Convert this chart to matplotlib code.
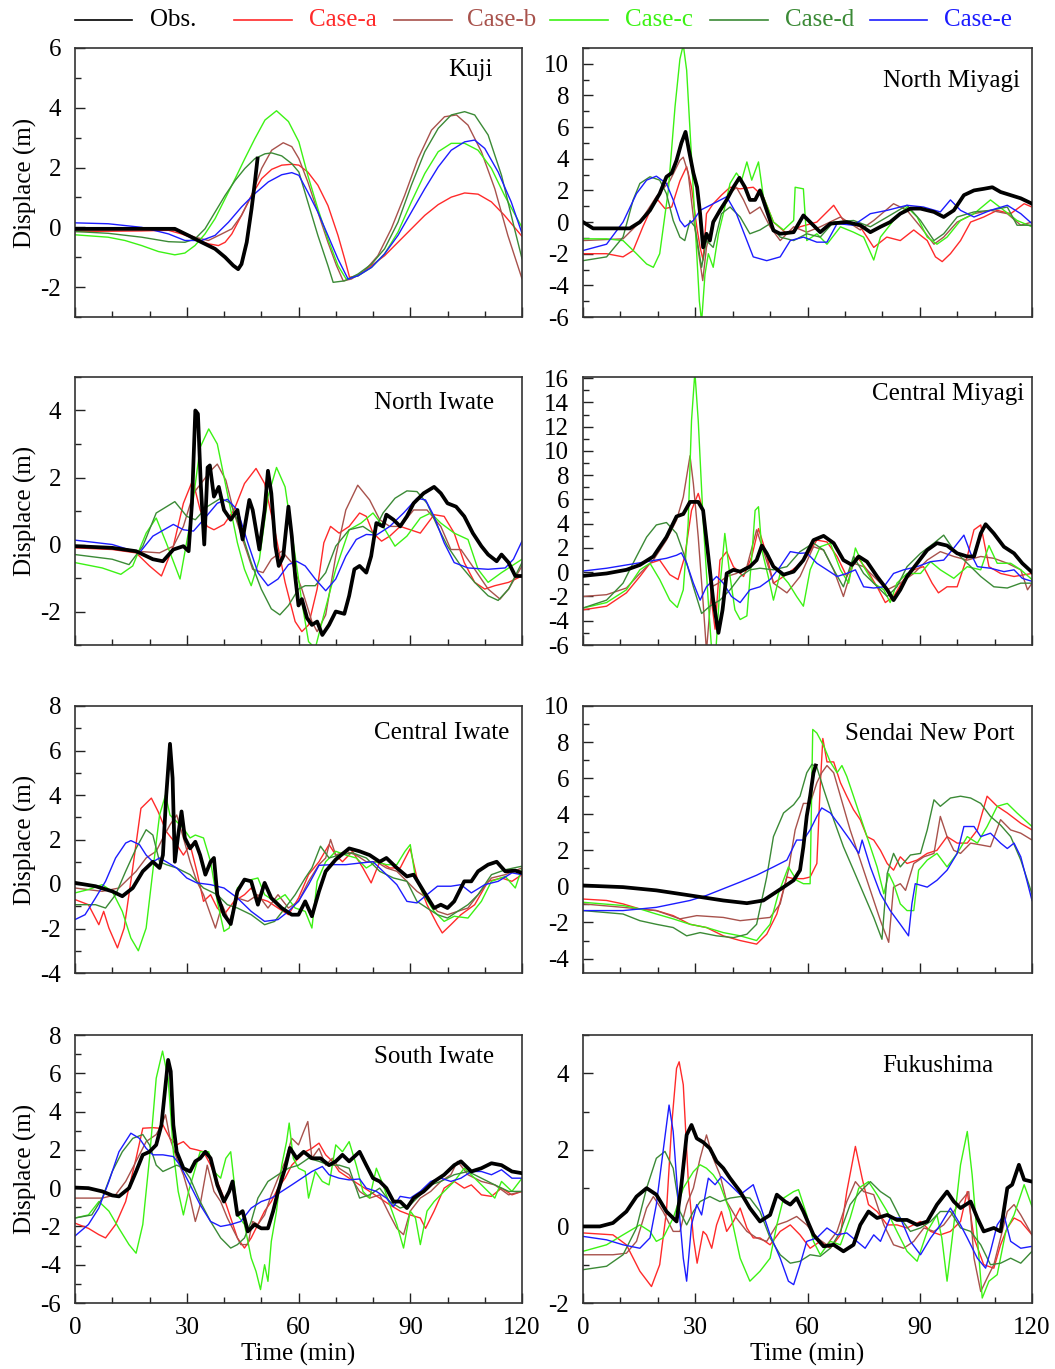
import matplotlib
matplotlib.use("Agg")
import matplotlib.pyplot as plt
from matplotlib.lines import Line2D
from matplotlib.ticker import MultipleLocator

plt.rcParams['font.family'] = ['Liberation Serif', 'DejaVu Serif']
plt.rcParams['axes.unicode_minus'] = False

# ---------------------------------------------------------------- data
# each series: (time [min], displacement [m]) samples
SERIES_NAMES = ["Obs.", "Case-a", "Case-b", "Case-c", "Case-d", "Case-e"]

KUJI_OBS = [(0,-0.05),(8.9,-0.05),(17.9,-0.05),(26.8,-0.05),(30.4,-0.27),(34,-0.5),(37.6,-0.72),(40.3,-1.0),(42.5,-1.28),(43.8,-1.4),(44.7,-1.23),(46.1,-0.5),(47.4,0.62),(48.3,1.52),(49,2.3)]
KUJI_A = [(0,-0.14),(8.9,-0.13),(17.9,-0.12),(25.1,-0.1),(28.6,-0.22),(32.2,-0.39),(35.8,-0.55),(38.5,-0.61),(40.3,-0.5),(42.1,-0.22),(44.7,0.4),(47.4,1.07),(50.1,1.63),(52.8,1.94),(55.5,2.08),(58.2,2.11),(60.1,2.08),(62.5,1.85),(65.2,1.41),(67.9,0.73),(70.6,-0.27),(72.4,-1.06),(73.7,-1.67),(76,-1.62),(79.6,-1.28),(83.1,-0.95),(86.7,-0.5),(90.3,-0.05),(93.9,0.4),(97.5,0.76),(101,1.01),(104.6,1.15),(108.2,1.11),(111.8,0.85),(115.3,0.4),(120,-0.3)]
KUJI_B = [(0,-0.1),(12,-0.08),(25.1,-0.05),(28.6,-0.16),(32.2,-0.33),(35.8,-0.44),(39.4,-0.22),(42.1,-0.05),(44.7,0.4),(47.4,1.07),(50.1,1.97),(52.8,2.58),(55.9,2.83),(58.2,2.7),(60.1,2.3),(62.5,1.52),(65.2,0.51),(67.9,-0.5),(70.2,-1.28),(72,-1.79),(74.2,-1.73),(77.8,-1.45),(81.3,-0.95),(84.9,-0.05),(88.5,1.07),(92.1,2.3),(95.7,3.25),(99.2,3.7),(102.4,3.76),(105.5,3.42),(109.1,2.53),(112.7,1.29),(116.2,-0.27),(120,-1.72)]
KUJI_C = [(0,-0.25),(8.9,-0.33),(13.4,-0.44),(17.9,-0.61),(22.4,-0.81),(26.8,-0.92),(29.5,-0.86),(32.2,-0.61),(34.9,-0.22),(37.6,0.29),(40.3,0.96),(43,1.63),(45.6,2.3),(48.3,2.97),(51,3.59),(54.1,3.9),(57.3,3.54),(60.1,2.86),(62.5,1.74),(65.2,0.62),(67.9,-0.39),(70.6,-1.28),(72.8,-1.73),(76,-1.62),(79.6,-1.34),(83.1,-0.89),(86.7,-0.16),(90.3,0.85),(93.9,1.8),(97.5,2.53),(101,2.81),(104.6,2.81),(108.2,2.58),(111.8,1.97),(115.3,1.07),(120,0)]
KUJI_D = [(0,-0.14),(8.9,-0.2),(17.9,-0.33),(25.1,-0.48),(29.5,-0.5),(32.2,-0.39),(34.9,-0.05),(37.6,0.51),(40.3,1.07),(43,1.57),(45.6,1.97),(48.3,2.3),(51,2.46),(52.8,2.49),(55.5,2.39),(58.2,2.13),(60.1,1.85),(62.5,0.85),(65.2,-0.27),(67.9,-1.28),(69.3,-1.84),(72.4,-1.79),(76,-1.56),(79.6,-1.23),(83.1,-0.72),(86.7,0.17),(90.3,1.41),(93.9,2.53),(97.5,3.31),(101,3.76),(104.6,3.87),(107.3,3.76),(110.9,3.09),(114.5,1.74),(118,-0.05),(120,-1.05)]
KUJI_E = [(0,0.15),(8.9,0.12),(17.9,0),(25.1,-0.22),(29.5,-0.44),(34,-0.44),(37.6,-0.27),(41.2,0.17),(44.7,0.68),(48.3,1.13),(51.9,1.52),(55.5,1.76),(58.2,1.83),(60.1,1.74),(62.5,1.18),(65.2,0.51),(67.9,-0.27),(70.6,-1.06),(73.3,-1.73),(76,-1.62),(79.6,-1.34),(83.1,-0.89),(86.7,-0.27),(90.3,0.51),(93.9,1.29),(97.5,2.02),(101,2.58),(104.6,2.86),(107.3,2.92),(110,2.64),(113.6,1.85),(117.1,0.85),(120,-0.2)]

NMIY_OBS = [(0,0),(2.7,-0.4),(12.5,-0.4),(15.2,0),(17.9,0.74),(20.5,1.8),(22.3,2.86),(23.7,3.1),(25,3.9),(26.3,5.0),(27.4,5.7),(28.3,4.55),(29.5,3.1),(30.5,2.2),(31.3,0.53),(32.1,-1.6),(33,-0.74),(33.9,-1.17),(34.8,0),(36.6,0.74),(38.4,1.4),(40.2,2.2),(41.8,2.8),(43.3,2.2),(44.6,1.4),(46,1.4),(47.3,2.0),(49.1,0.74),(50.9,-0.53),(52.7,-0.74),(56.3,-0.64),(58.9,0.42),(60.7,0),(63.4,-0.64),(66.1,-0.1),(70.5,0),(74.1,-0.2),(76.8,-0.64),(79.5,-0.3),(82.1,0),(84.8,0.53),(87.5,0.85),(90.2,0.85),(93.8,0.64),(96.4,0.32),(99.1,0.74),(101.8,1.7),(104.5,2.0),(107.1,2.1),(109.4,2.2),(111.6,1.9),(114.3,1.7),(117,1.5),(120,1.16)]
NMIY_A = [(0,-2.0),(6.3,-2.0),(10.7,-2.2),(13.4,-1.8),(16,-0.3),(18.8,1.16),(20,1.4),(21.9,0.85),(23.7,0.95),(25.9,2.6),(27.7,3.5),(29,2.2),(30.4,-0.3),(31.3,-1.6),(32.1,-2.4),(33,0.53),(34.8,1.16),(37,1.7),(39.3,2.2),(42,2.1),(45.5,2.2),(48.2,1.6),(50.9,0),(54.5,-0.74),(58,-0.3),(62.5,0),(67,1.06),(69.6,0.1),(74.1,-0.3),(77.7,-1.6),(81.2,-0.95),(84.8,-1.17),(88.4,-0.5),(92,-1.17),(94.2,-2.2),(96,-2.5),(98.2,-2.0),(100.9,-1.17),(103.6,0),(107.1,0.32),(110.7,0.74),(114.3,0.53),(117.9,1.16),(120,0.95)]
NMIY_B = [(0,-1.17),(10.7,-1.06),(15.2,0),(19.6,1.6),(23.2,2.6),(25.9,3.9),(26.8,4.1),(28.1,3.1),(29.5,0.32),(30.8,-1.8),(32,-3.7),(33,-1.6),(34.8,0.1),(37,0.74),(39.3,1.8),(41,2.2),(42.9,1.4),(44.6,0.53),(47.3,0.95),(50,-0.3),(52.7,-1.17),(56.3,-0.3),(59.8,-0.64),(63.4,-0.3),(68.8,0.32),(74.1,-0.5),(77.7,0.1),(83,1.16),(86.6,0.74),(90.2,-0.3),(93.8,-1.4),(96.4,-0.95),(100,0),(104.5,0.53),(108.9,0.74),(113.4,0.53),(117,-0.2),(120,0)]
NMIY_C = [(0,-1.06),(6.3,-1.06),(10.7,-1.17),(14.3,-2.0),(17,-2.65),(18.8,-2.86),(20.5,-2.0),(22.8,2.0),(24.6,7.3),(25.9,10.3),(26.8,11.2),(27.7,9.6),(29,4.1),(30.2,-1.17),(31.1,-5.0),(31.7,-6.3),(32.6,-3.3),(33.5,-2.0),(34.8,-2.86),(36.2,-0.74),(37.5,0.53),(39.3,2.44),(41,3.1),(42.4,2.65),(43.8,3.8),(45.1,2.65),(46.9,3.8),(48.2,1.6),(50.9,0),(53.6,-0.5),(56.3,0.1),(56.7,2.2),(58.9,2.1),(59.8,-1.17),(62.5,-0.74),(65.2,-1.4),(68.8,-0.3),(72.3,-0.64),(75,-0.95),(77.7,-2.4),(79.5,-0.95),(83,0.1),(86.6,0.95),(89.3,0.32),(92,-0.95),(94.6,-1.4),(97.3,-0.95),(100.9,0.1),(104.5,0.53),(108.9,1.4),(112.5,0.74),(116,0.1),(120,-0.3)]
NMIY_D = [(0,-2.44),(6.3,-2.2),(10.7,-0.95),(13.4,1.4),(15.2,2.44),(17.9,2.86),(20.5,2.65),(22.3,1.8),(24.1,0.1),(25.9,-0.95),(27.2,-1.17),(28.6,0.1),(29.9,-0.3),(31.7,-2.86),(33,-1.17),(34.8,-1.6),(37,0.53),(39.3,0.95),(42,0.32),(44.6,-0.74),(47.3,-0.5),(50,-0.1),(52.7,-0.95),(56.3,-1.17),(59.8,-0.74),(63.4,-0.95),(67,0),(72.3,0.1),(76.8,-0.3),(81.3,0.32),(86.6,1.06),(90.2,0.1),(93.8,-1.17),(96.4,-0.74),(100,0.32),(104.5,0.64),(108.9,0.74),(113.4,0.95),(116,-0.2),(120,-0.2)]
NMIY_E = [(0,-1.8),(6.3,-1.4),(10.7,0),(14.3,1.8),(17,2.65),(19.6,2.9),(22.3,2.44),(24.1,1.4),(25.9,0.1),(27.2,-0.3),(29.5,0.1),(31.3,0.74),(34.8,1.16),(38.4,1.6),(41,0.53),(43.8,-1.17),(45.5,-2.2),(49.1,-2.44),(52.7,-2.2),(55.4,-1.17),(58.9,-0.95),(62.5,-1.27),(65.2,-1.27),(67.9,-0.1),(72.3,-0.2),(76.8,0.53),(81.3,0.74),(86.6,1.06),(91,0.95),(95.5,0.64),(98.2,1.4),(100.9,0.74),(104.5,0.32),(108.9,0.74),(113.4,1.06),(117,0.53),(120,-0.1)]

NIWA_OBS = [(0,-0.05),(10,-0.1),(16.4,-0.2),(20.9,-0.44),(23.6,-0.5),(26.4,-0.15),(29.1,-0.05),(30.5,-0.2),(31.4,1.23),(32.3,4.0),(33,3.9),(33.8,1.72),(34.7,0),(35.6,2.3),(36.2,2.36),(37.3,1.43),(38.6,1.72),(40,1.03),(41.8,0.74),(43.6,1.03),(45,0.15),(46.8,1.33),(47.7,1.03),(49.5,-0.15),(50.9,1.03),(51.8,2.2),(52.7,1.53),(53.8,-0.05),(54.7,-0.64),(55.9,-0.35),(57.3,1.13),(58.2,0.25),(59.1,-0.94),(60,-1.82),(60.9,-1.63),(62.3,-2.2),(63.6,-2.4),(65,-2.3),(66.4,-2.7),(68.2,-2.4),(70,-2.0),(72.3,-2.07),(73.6,-1.53),(75,-0.74),(76.4,-0.64),(78.2,-0.84),(79.5,-0.35),(80.9,0.64),(82.7,0.54),(83.6,0.89),(85.5,0.74),(87.3,0.54),(89.1,0.84),(90.9,1.23),(93.6,1.53),(96.4,1.72),(98.2,1.53),(100,1.23),(102.3,1.13),(104.5,0.84),(106.8,0.34),(109.1,-0.05),(110.9,-0.3),(113.2,-0.5),(114.5,-0.3),(116.4,-0.54),(118.2,-0.94),(120,-0.94)]
NIWA_A = [(0,-0.1),(10,-0.15),(16.4,-0.25),(20,-0.64),(23.2,-0.94),(26.4,-0.05),(29.1,1.23),(31.6,1.92),(33.6,1.03),(35.5,0.54),(37.3,0.44),(40,0.6),(42.7,1.03),(45.5,1.82),(48.6,2.27),(50.9,1.82),(53.6,0.44),(56.4,-1.13),(59.1,-2.3),(60.9,-2.6),(62.7,-2.4),(65,-1.33),(66.8,0.05),(68.6,0.54),(70.9,0.34),(73.6,0.54),(76.4,0.94),(78.2,0.84),(80,0.34),(82.3,0.1),(84.5,0.25),(87.3,0.54),(90,0.44),(92.7,0.34),(96.4,0.89),(99.1,0.84),(101.8,0.34),(104.5,-0.54),(107.3,-1.13),(110,-1.33),(112.7,-1.23),(116.4,-1.13),(120,-0.94)]
NIWA_B = [(0,-0.05),(10,-0.1),(16.4,-0.2),(22.7,-0.25),(26.4,-0.05),(29.1,0.54),(31.8,1.53),(34.5,1.92),(36.4,2.2),(38.2,2.4),(40.5,1.92),(42.7,0.94),(45,0.15),(47.7,-0.74),(50.5,-0.84),(52.7,-0.44),(55.5,-0.2),(58.2,-0.54),(60.9,-1.33),(63.6,-2.3),(65,-2.6),(67.3,-2.1),(70,-0.35),(72.7,1.03),(75.9,1.77),(79.1,1.33),(81.8,0.74),(84.5,0.54),(87.3,0.54),(90.9,1.03),(94.5,1.03),(98.2,0.54),(100.9,-0.15),(103.6,-0.15),(107.3,-0.74),(110.9,-1.33),(114.1,-1.63),(116.4,-1.33),(120,-0.64)]
NIWA_C = [(0,-0.54),(7.3,-0.7),(12.3,-0.89),(15.5,-0.64),(19.1,0.34),(21.8,0.79),(24.5,0.05),(28.2,-1.03),(30.9,0.64),(33.6,2.9),(35.9,3.45),(38.2,3.0),(40.9,1.53),(43.6,0.05),(45.5,-0.74),(47.3,-1.23),(49.5,-0.44),(51.8,1.43),(54.1,2.3),(56.4,1.72),(58.6,0.05),(60.9,-1.72),(62.7,-2.9),(64.5,-3.1),(66.8,-2.1),(70,-0.74),(73.6,0.44),(76.8,0.64),(80,0.94),(82.7,0.54),(85.9,-0.05),(89.1,0.25),(92.7,0.79),(95.5,0.94),(98.2,0.64),(101.8,0.34),(105.5,0.15),(108.2,-0.74),(110.9,-1.13),(114.5,-0.84),(120,-0.44)]
NIWA_D = [(0,-0.3),(10,-0.44),(14.5,-0.6),(18.2,-0.05),(21.8,0.94),(26.8,1.28),(30,0.84),(32.3,0.74),(35.5,1.13),(39.1,1.38),(41.8,1.23),(44.5,0.44),(47.3,-0.54),(50,-1.33),(52.7,-1.92),(55,-2.1),(57.3,-1.82),(60,-1.33),(61.8,-1.23),(64.5,-1.23),(67.3,-0.84),(70,-0.05),(73.6,0.44),(77.3,0.54),(80,0.34),(82.7,0.94),(85.9,1.38),(89.1,1.6),(91.8,1.58),(94.5,1.23),(97.3,0.54),(100,-0.05),(103.6,-0.64),(107.3,-1.13),(110.9,-1.53),(113.6,-1.67),(116.4,-1.33),(120,-0.54)]
NIWA_E = [(0,0.13),(10,0),(17.3,-0.25),(20.9,0.25),(26.4,0.6),(29.1,0.44),(31.8,0.4),(34.5,0.74),(38.2,1.23),(40.9,1.35),(43.6,1.03),(46.4,0.05),(49.1,-0.84),(51.8,-1.23),(54.5,-1.03),(57.3,-0.6),(59.5,-0.5),(61.8,-0.64),(64.5,-1.03),(67.3,-1.38),(70,-1.03),(72.7,-0.35),(75.5,0.15),(78.2,0.3),(80.9,0.28),(84.5,0.54),(88.2,0.94),(91.8,1.38),(94.1,1.33),(96.4,0.84),(99.1,0.05),(101.8,-0.54),(105.5,-0.7),(110.9,-0.74),(115.5,-0.7),(117.7,-0.44),(120,0.1)]

CMIY_OBS = [(0,-0.3),(6.3,-0.1),(11.6,0.2),(15.2,0.6),(18.8,1.3),(22.3,2.9),(25,4.6),(26.8,4.8),(28.6,5.8),(30.8,5.8),(32.1,5.1),(33.5,1.3),(34.8,-2.3),(36.2,-5.0),(37.3,-3.1),(38.4,-0.1),(40.2,0.2),(42,0.05),(44.6,0.46),(46.4,1.0),(47.8,2.2),(49.1,1.56),(50.9,0.46),(53.6,-0.2),(56.3,0.05),(58.9,1.0),(61.6,2.65),(64.3,3.0),(67,2.4),(69.6,1.0),(71.9,0.6),(73.7,1.3),(75.9,0.87),(78.6,-0.35),(81.3,-1.45),(83,-2.3),(84.8,-1.45),(86.6,-0.35),(89.3,0.74),(92,1.83),(94.6,2.4),(97.3,2.2),(100,1.56),(102.7,1.3),(104.5,1.3),(106.3,3.2),(107.6,3.96),(109.8,3.2),(112.5,2.1),(115.2,1.56),(117.4,0.74),(120,0)]
CMIY_A = [(0,-3.1),(6.3,-2.8),(11.6,-1.7),(15.2,-0.35),(17.9,0.74),(20.5,1.0),(23.2,-0.2),(25.4,-0.6),(27.2,1.3),(29,5.1),(30.8,6.5),(32.1,5.1),(33.5,1.3),(34.4,-2.5),(35.3,-4.7),(36.6,1.0),(38.4,1.7),(40.2,0.46),(42.9,-0.35),(45.1,1.3),(46.9,3.6),(48.7,1.83),(50.9,-0.9),(53.6,-0.35),(57.1,0.46),(59.8,1.3),(62.5,2.65),(65.2,2.5),(67.9,1.3),(70.5,-0.35),(73.2,1.3),(75.9,0.2),(78.6,-1.2),(80.8,-2.5),(83,-2.0),(85.7,-0.6),(88.4,0.2),(91,0.46),(93.3,-0.9),(95,-1.7),(97.3,-1.2),(100,-1.2),(102.7,1.3),(104.5,3.5),(106.3,3.9),(108.5,0.46),(111.6,-0.1),(115.2,-0.35),(120,-0.1)]
CMIY_B = [(0,-2.0),(6.3,-1.85),(11.6,-1.3),(15.2,-0.1),(18.8,1.0),(22.3,2.65),(25,4.3),(26.8,6.2),(28.6,9.6),(29.5,7.3),(30.8,2.9),(32.1,-2.5),(33,-6.5),(34.4,-1.2),(36.2,-0.9),(38.4,-0.35),(41,-0.1),(43.8,0.46),(46.4,3.5),(48.7,1.3),(50.9,-0.9),(54.5,-1.7),(58,-0.35),(61.6,2.1),(64.3,1.83),(67,0.2),(69.6,-2.0),(72.3,0.74),(75,0.46),(77.7,-0.35),(81.3,-1.45),(84.8,-0.9),(88.4,-0.1),(92,1.0),(95.5,1.7),(99.1,1.3),(102.7,1.0),(106.3,1.3),(109.8,1.15),(113.4,0.74),(117,0.2),(118.8,-1.45),(120,-0.9)]
CMIY_C = [(0,-2.95),(6.3,-2.5),(11.6,-1.45),(15.2,0.2),(17.9,0.74),(20.5,-0.6),(23.2,-2.3),(25.2,-2.9),(26.8,-1.45),(28.1,4.0),(29,12.5),(29.9,16.5),(30.8,12.5),(32.1,4.3),(33.5,-2.5),(34.4,-6.5),(35.5,-6.5),(36.6,-1.2),(37.9,3.2),(39.3,-0.35),(40.6,-3.1),(42,-3.9),(43.8,-3.6),(45.1,1.3),(46,5.1),(46.9,5.4),(47.8,1.83),(49.5,-0.35),(50.9,-2.3),(52.7,-0.1),(54.9,-0.9),(57.1,-2.0),(58.9,-2.8),(60.7,0.2),(63.4,2.1),(66.1,2.4),(68.8,0.2),(71,-0.9),(72.8,2.0),(75,0.46),(77.7,-0.9),(80.4,-1.45),(82.1,-2.5),(83.9,-0.9),(86.6,-0.1),(90.2,-0.1),(92.9,0.87),(95.5,0.2),(99.1,-0.5),(102.7,0.46),(106.3,0.2),(108.5,2.2),(110.7,0.74),(114.3,0.74),(117,0.2),(120,-0.6)]
CMIY_D = [(0,-2.95),(6.3,-2.3),(10.7,-0.9),(14.3,1.3),(17,2.9),(19.6,3.9),(22.3,4.1),(25,3.2),(27.2,1.3),(29.5,-1.2),(31.7,-3.4),(33.9,-2.8),(36.6,-2.3),(39.3,-1.45),(42,-0.35),(44.6,0.2),(47.3,0.33),(50.9,0.2),(54.5,0.46),(58,1.7),(61.6,2.4),(64.3,1.83),(67,0.2),(69.6,-1.2),(72.3,1.3),(75,-0.1),(77.7,-0.9),(81.3,-2.0),(83.9,-1.2),(86.6,0.46),(90.2,1.56),(93.8,2.4),(96.4,3.06),(99.1,1.83),(102.7,0.74),(106.3,-0.35),(109.8,-1.2),(113.4,-1.3),(117,-0.9),(120,-0.9)]
CMIY_E = [(0,0.1),(6.3,0.33),(11.6,0.6),(17,0.87),(22.3,1.15),(25,1.4),(26.3,1.6),(27.7,0.74),(29.5,-0.9),(31.3,-2.3),(33,-1.2),(35.7,-0.35),(37.5,-0.9),(39.7,-2.0),(42,-2.5),(44.6,-1.45),(47.3,-1.2),(50,-0.6),(52.7,0.46),(55.4,1.7),(58,1.56),(59.8,1.6),(62.5,0.74),(65.2,0.2),(67.9,-0.35),(70.5,-0.1),(72.8,0.2),(75,-1.2),(77.7,-1.3),(80.4,-1.2),(83,-0.1),(85.7,0.2),(89.3,0.46),(92.9,0.87),(96.4,1.0),(99.1,2.0),(101.8,3.06),(103.6,1.56),(105.4,0.46),(108.9,0.33),(112.5,0.05),(115.2,0.2),(117.4,-0.5),(120,-0.75)]

CIWA_OBS = [(0,0.05),(5.5,-0.1),(10,-0.33),(12.7,-0.55),(15.5,-0.18),(18.2,0.57),(20.9,1.0),(22.7,0.72),(23.6,1.3),(24.5,4.0),(25.5,6.3),(26.2,4.76),(26.8,1.0),(27.7,2.2),(28.6,3.26),(29.5,2.07),(30.9,1.6),(32.3,1.9),(33.6,1.3),(35,0.42),(36.4,1.0),(37.3,1.17),(38.2,-0.48),(40,-1.38),(41.8,-1.8),(43.6,-0.33),(45.5,0.2),(47.3,0.12),(49.1,-0.93),(50.9,0.05),(52.7,-0.63),(55.5,-1.08),(58.2,-1.38),(60,-1.38),(61.8,-0.78),(63.6,-1.45),(65.5,-0.33),(67.3,0.57),(70,1.1),(73.6,1.6),(76.4,1.47),(79.1,1.3),(81.8,1.0),(83.6,1.17),(86.4,0.72),(89.1,0.34),(90.9,0.42),(93.6,-0.33),(96.4,-1.08),(98.2,-0.93),(100,-1.08),(101.8,-0.78),(104.5,0.12),(106.4,0.12),(108.2,0.57),(110.9,0.87),(113.2,1.0),(115.5,0.57),(118.2,0.6),(120,0.5)]
CIWA_A = [(0,-0.7),(3.6,-0.93),(6.4,-1.83),(7.7,-1.23),(9.1,-1.98),(11.4,-2.87),(13.2,-1.98),(15.5,0.72),(17.7,3.4),(20.5,3.86),(22.3,3.26),(24.5,2.36),(27.3,1.77),(29.1,1.3),(30.9,1.77),(32.7,0.57),(34.5,-0.78),(36.4,-0.48),(38.2,-1.08),(40,-1.38),(42.7,-0.78),(45.5,-0.48),(47.3,-0.18),(49.1,-0.63),(51.8,-0.78),(54.5,-1.08),(57.3,-1.38),(60,-0.63),(62.7,0.42),(65.5,1.0),(68.2,1.77),(70,1.3),(71.8,1.0),(74.5,1.47),(77.3,0.72),(79.5,0.05),(81.8,1.0),(84.5,0.72),(87.3,0.72),(90,1.6),(91.8,0.27),(94.5,-0.93),(97.3,-1.83),(98.6,-2.2),(100.9,-1.83),(103.6,-1.38),(107.3,-0.93),(110.9,0.12),(114.5,0.27),(117.3,0.12),(120,0.42)]
CIWA_B = [(0,-0.18),(7.3,-0.33),(11.8,-0.18),(16.4,0.57),(19.1,1.17),(21.8,1.47),(23.6,2.07),(25.5,2.66),(27.3,3.1),(29.1,2.07),(30.9,1.0),(32.7,0.12),(34.5,-0.48),(36.4,-1.38),(37.7,-1.98),(39.5,-0.93),(41.4,-1.68),(43.6,-0.63),(46.4,-0.78),(49.1,-0.48),(51.8,-1.08),(54.5,-0.48),(57.3,-1.08),(60,-0.78),(62.7,0.12),(65.5,0.87),(67.3,1.17),(68.6,2.0),(70,1.3),(72.7,1.47),(75.5,1.3),(78.2,1.0),(80.9,1.0),(83.6,0.72),(86.4,0.57),(89.1,0.12),(91.8,-0.33),(94.5,-0.63),(97.3,-1.23),(100,-1.38),(102.7,-1.23),(105.5,-1.08),(108.2,-0.48),(111.8,0.27),(115.5,0.42),(120,0.72)]
CIWA_C = [(0,-0.4),(3.6,-0.25),(7.3,-0.03),(10,-0.33),(12.7,-1.23),(15,-2.43),(17,-3.0),(19.1,-1.98),(21.4,1.3),(22.7,3.1),(24.3,4.0),(25.5,3.1),(27.3,2.8),(29.1,2.5),(30.9,2.07),(32.3,2.2),(34.5,2.07),(36.4,1.0),(38.2,-0.78),(40,-2.13),(41.4,-1.98),(43.6,-0.18),(45.5,0.12),(49.1,0.27),(50.9,-0.48),(53.6,-0.78),(56.4,-0.48),(59.1,-1.08),(61.8,-1.23),(63.6,-1.98),(65,0.12),(67.3,1.0),(70,1.47),(72.7,1.3),(75.5,1.17),(78.2,0.72),(80.9,1.0),(83.6,0.87),(86.4,0.87),(88.6,1.47),(90,1.77),(91.4,0.27),(93.6,-0.48),(96.4,-1.23),(99.1,-1.68),(101.8,-1.45),(105.5,-1.53),(109.1,-0.78),(111.8,0.12),(115.5,0.34),(118.2,-0.18),(120,0.72)]
CIWA_D = [(0,-0.93),(5.5,-0.93),(8.2,-1.08),(10.9,-0.48),(13.6,0.57),(16.4,1.6),(19.1,2.44),(20.9,2.2),(22.7,1.0),(24.5,0.87),(27.3,0.72),(30.9,0.42),(34.5,-0.18),(38.2,-0.48),(40.9,-0.93),(43.6,-1.08),(47.3,-1.38),(50.9,-1.83),(53.6,-1.68),(56.4,-1.08),(59.1,-0.48),(61.8,0.27),(63.6,0.72),(65.9,1.7),(68.2,1.17),(70.9,1.3),(74.5,1.4),(78.2,1.17),(81.8,0.57),(85.5,0.27),(89.1,0.12),(91.8,-0.78),(94.5,-1.08),(97.3,-1.38),(100,-1.53),(102.7,-1.23),(105.5,-0.93),(108.2,-0.48),(111.8,0.42),(115.5,0.64),(120,0.8)]
CIWA_E = [(0,-1.6),(2.7,-1.38),(5.5,-0.63),(8.2,0.12),(10.9,1.17),(13.6,1.84),(15,1.95),(17.3,1.77),(19.1,1.3),(20.9,1.0),(22.7,1.17),(24.5,1.0),(27.3,0.72),(30,0.27),(32.7,0.05),(36.4,-0.03),(40,-0.18),(43.6,-0.63),(47.3,-1.23),(50.9,-1.68),(54.5,-1.6),(57.3,-1.23),(60,-0.78),(62.7,-0.03),(65.5,0.84),(69.1,0.87),(72.7,0.87),(76.4,0.94),(80,1.0),(82.7,0.57),(86.4,-0.03),(89.1,-0.78),(91.8,-0.85),(94.5,-0.48),(97.3,-0.1),(100.9,-0.1),(103.6,-0.03),(106.4,-0.4),(110,-0.03),(113.6,0.12),(117.3,0.5),(120,0.42)]

SEND_OBS = [(0,0.05),(10.7,-0.04),(19.6,-0.22),(28.6,-0.5),(37.5,-0.78),(43.8,-0.93),(48.2,-0.78),(50.9,-0.41),(53.6,-0.04),(56.3,0.34),(58,0.9),(58.9,2.2),(59.8,3.9),(60.7,5.0),(61.6,6.3),(62.2,6.7)]
SEND_A = [(0,-0.7),(6.3,-0.78),(10.7,-0.97),(15.2,-1.25),(19.6,-1.34),(24.1,-1.62),(28.6,-2.1),(33,-2.28),(37.5,-2.74),(42,-3.0),(46.4,-3.2),(49.1,-2.65),(51.8,-1.53),(54.5,0.52),(56.3,0.43),(58.9,0.43),(60.7,0.52),(62.5,1.27),(63.4,5.56),(64.1,8.2),(65.2,6.9),(67,6.9),(68.8,5.75),(70.5,5.0),(72.3,4.25),(74.1,3.7),(75.9,2.76),(77.7,2.57),(79.5,2.0),(81.3,1.27),(83,0.9),(84.8,1.64),(86.6,1.27),(89.3,1.46),(92,1.83),(94.6,2.0),(97.3,2.76),(100,2.4),(102.7,2.4),(105.4,3.13),(108,5.0),(110.7,4.44),(113.4,4.07),(117,3.5),(120,3.13)]
SEND_B = [(0,-0.97),(10.7,-1.16),(19.6,-1.34),(25.9,-1.8),(30.4,-1.62),(37.5,-1.72),(42,-1.9),(46.4,-1.8),(50,-1.72),(52.7,-0.97),(54.9,0.9),(56.7,3.13),(58.9,4.6),(60.7,4.6),(62.5,5.75),(63.8,6.3),(65.2,6.7),(67,6.3),(68.8,5.0),(71.4,3.13),(74.1,1.46),(76.8,-0.22),(79.5,-1.9),(81.7,-3.1),(83,-0.04),(84.8,0.15),(86.2,-0.22),(88.4,1.27),(91.1,1.64),(93.8,1.83),(95.5,3.88),(97.3,2.76),(99.1,2.0),(100.9,1.83),(103.6,2.4),(106.3,2.3),(108.9,2.2),(111.6,3.7),(114.3,3.13),(117,2.95),(120,2.57)]
SEND_C = [(0,-0.88),(10.7,-1.06),(15.2,-1.25),(19.6,-1.53),(24.1,-1.8),(28.6,-2.1),(33,-2.28),(37.5,-2.56),(42,-2.74),(46.4,-3.0),(50,-2.1),(52.2,-0.41),(54.9,1.08),(57.1,0.34),(58.9,0.15),(60.7,0.15),(61.4,8.7),(62.5,8.5),(64.3,7.8),(66.1,6.9),(67.9,6.3),(69.2,6.7),(70.5,6.1),(72.3,5.0),(74.1,3.88),(76.8,2.2),(78.6,1.08),(80.4,-0.41),(81.7,0.71),(83,0.15),(84.8,-0.97),(86.6,-1.34),(88.4,-1.34),(89.7,0.9),(92,1.46),(94.6,1.83),(97.3,1.08),(100,1.83),(102.7,2.76),(105.4,2.4),(108,3.32),(110.7,4.44),(113.4,4.6),(116,4.07),(120,3.32)]
SEND_D = [(0,-1.34),(10.7,-1.53),(15.2,-1.9),(19.6,-2.1),(24.1,-2.28),(27.7,-2.74),(31.3,-2.56),(35.7,-2.74),(40.2,-2.84),(43.8,-2.65),(46.4,-2.1),(49.1,0.52),(50.9,2.76),(53.6,4.07),(56.3,4.53),(58,5.0),(59.8,6.3),(61.2,6.77),(62.5,6.6),(64.3,5.4),(67,3.7),(69.6,2.2),(72.3,0.9),(75,-0.41),(77.7,-1.72),(79.9,-2.93),(81.3,0.71),(83,1.83),(84.8,1.08),(87.5,1.74),(90.2,1.83),(92,3.13),(93.8,4.8),(95.5,4.44),(98.2,4.9),(100.9,5.0),(103.6,4.9),(106.3,4.6),(108.9,3.88),(111.6,3.4),(114.3,2.76),(117,1.46),(120,-0.41)]
SEND_E = [(0,-1.34),(10.7,-1.34),(15.2,-1.25),(19.6,-1.16),(24.1,-0.97),(28.6,-0.78),(33,-0.5),(37.5,-0.13),(42,0.24),(46.4,0.62),(50.9,1.08),(54.5,1.46),(57.1,2.57),(58.9,2.57),(60.7,3.13),(62.5,3.88),(63.8,4.35),(66.1,4.07),(68.8,3.32),(71.4,2.57),(73.7,1.83),(74.6,2.57),(76.8,1.08),(79.5,-0.41),(82.1,-1.34),(84.8,-2.1),(87,-2.74),(87.9,-0.97),(88.8,0.15),(92,-0.04),(94.6,0.34),(97.3,0.9),(100,1.83),(101.8,3.32),(104.5,3.32),(106.3,2.76),(108.9,2.95),(111.6,2.4),(113.4,2.1),(115.2,2.4),(117,1.64),(120,-0.78)]

SIWA_OBS = [(0,0.03),(3.6,0),(7.3,-0.17),(10,-0.38),(11.8,-0.43),(14.5,0),(16.4,0.87),(18.2,1.74),(20,1.9),(21.8,2.26),(23.2,3.3),(24.1,5.0),(25,6.7),(25.7,6.1),(26.4,3.3),(27.3,1.9),(29.1,1.04),(30.9,0.87),(32.3,1.4),(33.6,1.56),(35,1.9),(36.4,1.56),(38.2,0.17),(40,-0.7),(41.4,-0.17),(42.3,0.35),(43.6,-1.4),(45,-1.2),(46.4,-2.26),(48.2,-1.9),(50,-2.1),(51.8,-2.1),(53.2,-1.2),(54.5,-0.17),(56.4,1.04),(57.7,2.1),(59.5,1.56),(61.4,1.9),(63.6,1.56),(65.9,1.56),(68.2,1.2),(70,1.4),(71.8,1.74),(73.6,1.4),(76.4,1.9),(78.2,1.2),(80,0.52),(81.8,0.35),(83.6,0),(85.5,-0.7),(87.3,-0.7),(89.1,-1.04),(90.9,-0.52),(93.6,-0.17),(96.4,0.35),(99.1,0.7),(101.8,1.2),(103.6,1.4),(106.4,0.87),(109.1,1.04),(111.8,1.3),(114.5,1.2),(117.3,0.87),(120,0.78)]
SIWA_A = [(0,-1.83),(3.6,-2.1),(6.4,-2.43),(8.2,-2.6),(10.9,-1.9),(13.6,-0.7),(16.4,1.56),(18.2,3.13),(20.9,3.16),(22.7,3.13),(23.6,3.3),(25.5,2.6),(27.3,2.26),(29.1,2.43),(30.9,2.08),(32.7,2.0),(34.5,1.9),(36.4,1.2),(38.2,0.35),(40,-0.52),(41.8,-1.56),(43.6,-2.6),(45.5,-3.13),(47.3,-2.6),(49.1,-1.9),(50.9,-1.2),(52.7,-0.7),(54.5,0),(56.4,0.52),(58.2,1.2),(60,1.56),(61.8,1.9),(63.6,2.08),(65.5,2.35),(67.3,1.74),(69.1,1.4),(70.9,0.87),(73.6,0.52),(76.4,0.17),(79.1,-0.17),(81.8,-0.52),(84.5,-0.87),(87.3,-1.2),(90,-1.4),(92.7,-1.56),(94.1,-2.1),(96.4,-1.2),(99.1,0),(101.8,0.35),(104.5,0),(106.4,0.17),(109.1,-0.35),(111.8,-0.43),(114.5,0),(117.3,-0.35),(120,-0.17)]
SIWA_B = [(0,-0.52),(7.3,-0.52),(10.9,-0.35),(13.6,0.35),(16.4,1.4),(19.1,2.43),(21.8,2.8),(23.2,3.3),(24.3,3.83),(25.5,2.6),(27.3,1.56),(29.1,0.7),(30.9,-0.52),(32.3,-1.74),(33.6,-0.87),(35.5,1.2),(37.3,-0.17),(39.1,-0.7),(40.9,-1.56),(42.7,-2.26),(44.5,-2.95),(46.4,-2.95),(47.7,-1.74),(49.1,-1.9),(50.9,-1.4),(52.7,-0.35),(54.5,0.52),(56.4,1.4),(58.2,2.6),(60,2.26),(61.4,2.96),(62.5,3.48),(63.6,1.56),(65.5,2.08),(67.3,1.2),(69.1,1.56),(70.9,1.04),(73.6,0.7),(76.4,-0.17),(79.1,-0.52),(81.8,-0.35),(84.5,-1.4),(86.4,-2.1),(88.2,-2.43),(90,-1.2),(92.7,-0.52),(95.5,-0.17),(98.2,0.35),(100.9,0.7),(102.7,1.4),(105.5,0.7),(109.1,0.35),(112.7,0.17),(116.4,-0.35),(120,-0.17)]
SIWA_C = [(0,-1.56),(3.6,-1.4),(6.4,-0.7),(9.1,-1.2),(11.8,-2.1),(14.5,-2.95),(16.4,-3.4),(18.2,-1.9),(20,1.56),(21.8,5.74),(23.5,7.16),(25,5.74),(26.4,1.9),(27.7,-0.17),(29.1,-1.4),(30.5,-0.17),(31.8,0.7),(33.6,1.9),(35.9,1.9),(37.3,0.87),(39.1,0.52),(40.5,1.56),(41.8,1.9),(42.7,0.35),(43.6,-1.4),(45.5,-1.9),(47.3,-3.65),(48.6,-4.35),(49.8,-5.3),(50.9,-4.0),(51.8,-4.87),(52.7,-2.78),(54.1,-1.2),(55.5,1.2),(56.8,2.43),(57.5,3.4),(58.6,1.56),(60,1.04),(61.8,0.87),(62.7,-0.52),(64.5,0.87),(66.4,0.35),(68.2,0.17),(70,2.26),(71.8,1.9),(73.6,2.43),(75.5,1.2),(77.3,-0.17),(79.1,-0.52),(80.9,1.04),(82.7,0.17),(84.5,-0.87),(86.4,-1.9),(88.2,-3.13),(90,-1.2),(91.4,-1.56),(92.7,-2.95),(94.5,-1.2),(96.4,-0.7),(99.1,-0.17),(101.8,0.35),(104.5,1.04),(107.3,0.52),(110,0),(112.7,-0.52),(114.5,0.35),(117.3,-0.17),(120,0.52)]
SIWA_D = [(0,-1.56),(4.5,-1.4),(7.3,-0.52),(10,0.87),(12.7,1.9),(15.5,2.6),(18.2,2.8),(20,2.26),(21.8,1.2),(23.6,0.87),(25.5,1.04),(27.3,1.2),(29.1,1.04),(30.9,0.52),(33.6,-0.7),(36.4,-1.74),(39.1,-2.6),(41.8,-3.13),(43.6,-2.95),(45.5,-2.6),(47.3,-1.74),(49.1,-0.52),(51.8,0.35),(54.5,0.7),(57.3,1.04),(60,1.2),(62.7,1.56),(65.5,1.4),(68.2,1.2),(70.9,1.2),(73.6,1.04),(76.4,-0.52),(79.1,-0.35),(81.8,0),(84.5,-0.7),(87.3,-1.04),(90,-0.87),(92.7,-0.35),(95.5,0.17),(98.2,0.35),(101.8,0.7),(105.5,0.87),(109.1,0.52),(112.7,0.17),(116.4,-0.17),(120,-0.17)]
SIWA_E = [(0,-2.5),(3.6,-1.9),(6.4,-1.04),(9.1,0.35),(11.8,1.9),(15,2.87),(17.3,2.6),(19.1,2.08),(20.9,1.74),(23.6,1.74),(26.4,1.65),(28.2,1.2),(30.9,0.17),(33.6,-0.87),(36.4,-1.74),(39.1,-2.0),(41.8,-1.9),(44.5,-1.74),(47.3,-1.04),(50,-0.7),(52.7,-0.52),(55.5,-0.17),(58.2,0.17),(60.9,0.52),(63.6,0.87),(66.4,1.13),(68.2,0.7),(70.9,0.52),(73.6,0.43),(76.4,0.48),(78.2,0),(80.9,-0.17),(83.6,-0.52),(85.5,-0.96),(87.3,-0.43),(90,-0.52),(92.7,-0.17),(95.5,0.35),(98.2,0.52),(100.9,0.35),(103.6,0.52),(106.4,0.87),(109.1,0.87),(111.8,0.7),(114.5,0.96),(117.3,0.52),(120,0.52)]

FUKU_OBS = [(0,0),(4.5,0),(8,0.09),(11.6,0.39),(14.3,0.78),(17,1.0),(19.6,0.83),(22.3,0.39),(25,0.13),(26.3,1.09),(27.7,2.39),(29,2.65),(30.4,2.3),(32.1,2.2),(33.9,2.04),(35.7,1.7),(37.5,1.52),(39.3,1.26),(42,0.91),(44.6,0.48),(47.3,0.13),(50,0.3),(51.8,0.83),(54,0.65),(55.4,0.57),(57.1,0.74),(58.9,0.39),(61.6,-0.22),(64.3,-0.52),(67,-0.48),(69.6,-0.65),(72.3,-0.48),(74.1,0.04),(76.3,0.39),(78.6,0.22),(81.3,0.3),(83.9,0.17),(86.6,0.17),(89.3,0.04),(92,0.13),(94.6,0.57),(97.3,0.91),(99.1,0.65),(100.9,0.48),(103.6,0.65),(105.4,0.22),(107.1,-0.13),(109.8,-0.04),(111.6,-0.13),(113.4,1.0),(114.7,1.09),(116.5,1.61),(117.9,1.22),(120,1.17)]
FUKU_A = [(0,-0.17),(8,-0.22),(11.6,-0.48),(15.2,-1.17),(18.3,-1.57),(20.5,-1.0),(22.3,0.39),(23.7,2.65),(25,4.13),(25.7,4.3),(26.8,3.7),(28.1,1.26),(29.5,-0.3),(30.5,-0.96),(32.1,-0.13),(33,-0.22),(34.4,-0.57),(35.7,0.04),(37,0.39),(38.4,-0.13),(40.2,0.13),(42,0.48),(43.8,-0.04),(45.5,-0.3),(47.3,-0.3),(50,-0.48),(52.7,-0.13),(55.4,0.04),(58,-0.22),(60.7,-0.57),(63.4,-0.39),(66.1,-0.57),(68.8,-0.22),(70.5,0.91),(72.8,2.09),(74.6,1.26),(76.3,0.57),(78.6,0.39),(81.3,0.04),(83.9,0.04),(86.6,-0.04),(90.2,0.13),(92.9,-0.13),(95.5,-0.22),(98.2,-0.13),(100.9,0.13),(102.7,0.91),(104.5,-0.3),(107.1,-1.0),(109.8,-1.09),(111.6,-0.48),(113.4,-0.04),(115.2,0.22),(117,0.13),(120,-0.22)]
FUKU_B = [(0,-0.74),(8,-0.74),(11.6,-0.7),(14.3,-0.39),(17,0.48),(18.8,0.78),(21.4,0.39),(24.1,-0.13),(25.9,-0.13),(27.7,0.57),(29.5,1.0),(31.3,1.78),(33,2.39),(34.8,1.78),(36.6,1.35),(38.4,0.65),(41,0.22),(43.8,-0.13),(46.4,-0.3),(49.1,-0.39),(51.8,0.04),(54.5,0.13),(57.1,0.26),(59.8,0.04),(62.5,-0.3),(65.2,-0.48),(67.9,-0.13),(70.5,0.65),(72.8,1.17),(75,0.91),(77.7,0.83),(80.4,0.04),(83,-0.48),(85.7,-0.57),(88.4,-0.39),(91.1,-0.04),(93.8,-0.13),(96.4,0.04),(99.1,0.39),(100.9,0.65),(103.1,0.91),(104.5,-0.83),(106.3,-1.7),(108,-1.35),(109.8,-1.0),(111.6,-0.3),(113.4,0.39),(115.2,0.57),(117,0.3),(120,-0.22)]
FUKU_C = [(0,-0.65),(6.3,-0.48),(10.7,-0.22),(15.2,0.04),(17.9,-0.13),(19.6,-0.39),(21.4,-0.3),(24.1,0.22),(26.8,1.0),(29.5,1.43),(31.3,1.61),(33,1.52),(34.8,1.35),(36.6,1.09),(39.3,0.39),(42,-0.83),(44.6,-1.43),(47.3,-1.17),(50,-0.83),(51.8,0.04),(53.6,0.74),(56.3,0.91),(57.6,0.96),(59.8,0.3),(61.6,-0.39),(63.4,-0.74),(66.1,-0.39),(68.8,-0.48),(71.4,0.22),(73.7,1.0),(76.3,1.17),(78.6,0.83),(81.3,0.39),(83.9,-0.13),(86.6,-0.65),(89.3,-0.91),(92,-0.13),(94.6,0.3),(95.9,-0.3),(97.3,-1.43),(99.1,0.04),(100.9,1.61),(102.7,2.48),(104,1.35),(105.4,-0.3),(106.7,-1.87),(108.5,-1.43),(110.7,-1.26),(113,-0.13),(115.2,0.3),(117.9,1.09),(120,0.52)]
FUKU_D = [(0,-1.13),(6.3,-1.04),(10.7,-0.74),(14.3,-0.04),(17,1.0),(19.6,1.78),(21.9,1.96),(24.1,1.52),(25.9,0.39),(27.7,0.04),(29.5,0.39),(31.3,0.65),(33.9,0.78),(36.6,0.65),(39.3,0.74),(42,0.78),(44.6,0.74),(47.3,0.39),(50,-0.3),(52.7,-0.74),(55.4,-0.96),(58,-0.91),(60.7,-0.74),(63.4,-0.78),(66.1,-0.57),(68.8,-0.13),(71.4,0.57),(74.1,0.91),(76.8,1.17),(79.5,0.91),(82.1,0.74),(84.8,0.22),(87.5,-0.13),(90.2,-0.04),(92.9,0.13),(95.5,0.39),(98.2,0.39),(100.9,-0.04),(103.6,-0.13),(106.3,-0.48),(108.9,-1.0),(111.6,-0.96),(114.3,-0.83),(117,-0.96),(120,-0.65)]
FUKU_E = [(0,-0.26),(6.3,-0.35),(10.7,-0.48),(15.2,-0.57),(17.9,-0.3),(19.6,0.57),(21.4,1.96),(23,3.17),(24.1,2.48),(25.4,0.74),(26.8,-0.83),(27.7,-1.43),(29,0.04),(30.4,0.57),(31.7,0.3),(33.5,1.26),(35.3,1.09),(37,1.3),(39.3,1.09),(42,0.83),(45.5,1.09),(47.3,0.57),(50,-0.22),(52.7,-0.83),(54.9,-1.43),(56.3,-1.52),(58,-1.0),(59.8,-0.39),(62.5,-0.3),(65.2,-0.04),(67.9,-0.22),(70.5,-0.17),(73.2,-0.39),(75.4,-0.57),(77.7,-0.22),(79.5,-0.39),(82.1,0.22),(84.8,0.22),(87.5,-0.39),(90.2,-0.74),(92.9,-0.3),(95.5,0.04),(98.2,0.48),(100.9,0.04),(102.7,-0.3),(105.4,-0.83),(107.6,-1.09),(108.9,-0.65),(110.7,0.04),(112.5,0.3),(114.3,-0.39),(117,-0.57),(120,-0.52)]

STATIONS = ["Kuji", "North Miyagi", "North Iwate", "Central Miyagi",
            "Central Iwate", "Sendai New Port", "South Iwate", "Fukushima"]
STATION_SERIES = [
    [KUJI_A, KUJI_B, KUJI_C, KUJI_D, KUJI_E, KUJI_OBS],
    [NMIY_A, NMIY_B, NMIY_C, NMIY_D, NMIY_E, NMIY_OBS],
    [NIWA_A, NIWA_B, NIWA_C, NIWA_D, NIWA_E, NIWA_OBS],
    [CMIY_A, CMIY_B, CMIY_C, CMIY_D, CMIY_E, CMIY_OBS],
    [CIWA_A, CIWA_B, CIWA_C, CIWA_D, CIWA_E, CIWA_OBS],
    [SEND_A, SEND_B, SEND_C, SEND_D, SEND_E, SEND_OBS],
    [SIWA_A, SIWA_B, SIWA_C, SIWA_D, SIWA_E, SIWA_OBS],
    [FUKU_A, FUKU_B, FUKU_C, FUKU_D, FUKU_E, FUKU_OBS],
]

# ---------------------------------------------------------------- styling
CASE_COLORS = ["#ff2a2a", "#a8524c", "#3cf214", "#3b8a36", "#1c1cff"]
OBS_COLOR = "#000000"
LEGEND_COLORS = [OBS_COLOR] + CASE_COLORS

# y-range, first/last labelled tick for each panel
Y_SETUP = [
    ((-3, 6), -2, 6),
    ((-6, 11), -6, 10),
    ((-3, 5), -2, 4),
    ((-6, 16.1), -6, 16),
    ((-4, 8), -4, 8),
    ((-4.8, 10), -4, 10),
    ((-6, 8), -6, 8),
    ((-2, 5), -2, 4),
]
# station name anchor (axes fraction, right aligned)
TITLE_POS = [(0.935, 0.918), (0.973, 0.877), (0.937, 0.903), (0.982, 0.937),
             (0.971, 0.899), (0.962, 0.895), (0.937, 0.918), (0.915, 0.884)]

FS = 18
W, H = 1055, 1369
fig = plt.figure(figsize=(W / 100, H / 100), dpi=100)

col_x = [(75, 522), (583, 1032)]
row_y = [(48, 317), (377, 645), (706, 973), (1035, 1303)]

for i, name in enumerate(STATIONS):
    r, c = divmod(i, 2)
    x0, x1 = col_x[c]
    y0, y1 = row_y[r]
    ax = fig.add_axes([x0 / W, 1 - y1 / H, (x1 - x0) / W, (y1 - y0) / H])

    for k, series in enumerate(STATION_SERIES[i]):
        t = [p[0] for p in series]
        v = [p[1] for p in series]
        if k < 5:
            ax.plot(t, v, color=CASE_COLORS[k], lw=1.0, zorder=2 + k * 0.1)
        else:
            ax.plot(t, v, color=OBS_COLOR, lw=2.7, zorder=3,
                    solid_joinstyle="round")

    (ylo, yhi), lab_lo, lab_hi = Y_SETUP[i]
    ax.set_xlim(0, 120)
    ax.set_ylim(ylo, yhi)
    ax.set_xticks([0, 30, 60, 90, 120])
    ax.xaxis.set_minor_locator(MultipleLocator(10))
    ax.set_yticks(list(range(lab_lo, lab_hi + 1, 2)))
    ax.yaxis.set_minor_locator(MultipleLocator(1))
    ax.tick_params(which="both", direction="in", top=False, right=False,
                   labelsize=FS, width=1.0, color="#222222")
    ax.tick_params(which="major", length=7)
    ax.tick_params(which="minor", length=4)
    ax.tick_params(axis="y", pad=10)
    ax.tick_params(axis="x", pad=10)
    for sp in ax.spines.values():
        sp.set_linewidth(1.2)
        sp.set_color("#333333")

    if r < 3:
        ax.tick_params(axis="x", labelbottom=False)
    else:
        ax.set_xlabel("Time (min)", fontsize=FS)
        ax.xaxis.set_label_coords(0.5, -0.15)
    if c == 0:
        ax.set_ylabel("Displace (m)", fontsize=FS)
        ax.yaxis.set_label_coords(-0.085, 0.5)

    tx, ty = TITLE_POS[i]
    ax.text(tx, ty, name, transform=ax.transAxes, ha="right", va="center",
            fontsize=FS)

# legend row across the top
line_px = [(75, 132), (234, 292), (394, 452), (550, 608), (710, 768), (870, 927)]
text_px = [150, 309, 467, 625, 785, 944]
ly = 1 - 20 / H
for k, label in enumerate(SERIES_NAMES):
    a, b = line_px[k]
    fig.add_artist(Line2D([a / W, b / W], [ly, ly], color=LEGEND_COLORS[k],
                          lw=1.2, transform=fig.transFigure))
    fig.text(text_px[k] / W, ly, label, color=LEGEND_COLORS[k], fontsize=FS,
             ha="left", va="center")

fig.savefig("out.png", dpi=100)
